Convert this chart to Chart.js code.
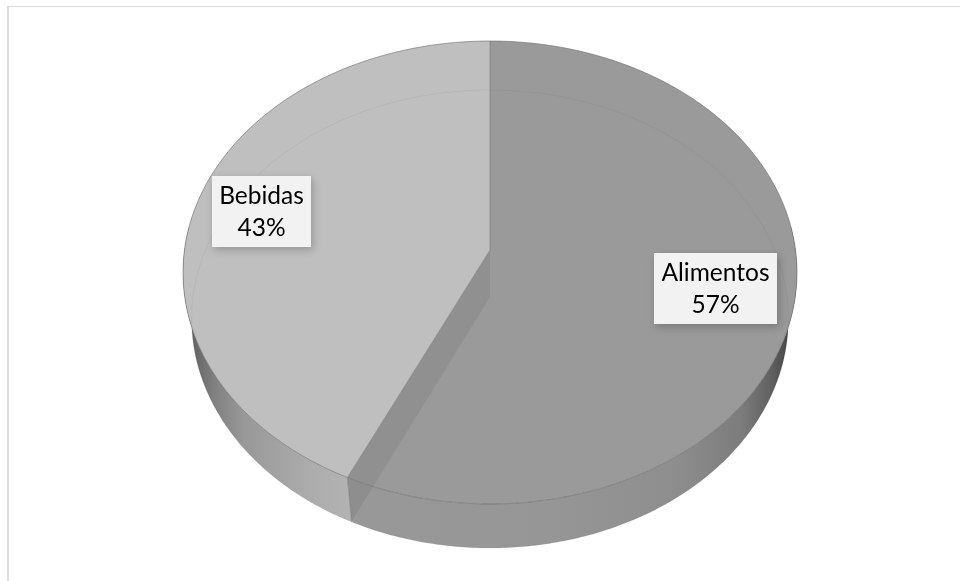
<!DOCTYPE html>
<html><head><meta charset="utf-8">
<style>html,body{margin:0;padding:0;background:#fff}#wrap{width:960px;height:581px}</style>
<script src="https://cdn.jsdelivr.net/npm/chart.js@4"></script>
</head><body><div id="wrap"><canvas id="c" width="960" height="581"></canvas></div>
<script>
const categories = ['Alimentos', 'Bebidas'];
const shares = [57, 43];
const sliceColors = ['#9a9a9a', '#bfbfbf'];

// perspective projection of a unit disc onto the page (top face and bottom face)
const topFace = {cx: 490, cy: 250, A: 305.5, B: 229.3, k: 0.0972};
const botFace = {cx: 490, cy: 297, A: 297, B: 226.9, k: 0.0961};
function proj(f, a, r = 1) {
  const u = r * Math.cos(a), v = r * Math.sin(a), w = 1 - f.k * v;
  return [f.cx + f.A * u / w, f.cy + f.B * v / w];
}
function arcPts(f, a0, a1) {
  const n = Math.max(2, Math.ceil(Math.abs(a1 - a0) * 90)), p = [];
  for (let i = 0; i <= n; i++) p.push(proj(f, a0 + (a1 - a0) * i / n));
  return p;
}
function poly(ctx, pts, close = true) {
  ctx.beginPath();
  pts.forEach((p, i) => i ? ctx.lineTo(p[0], p[1]) : ctx.moveTo(p[0], p[1]));
  if (close) ctx.closePath();
}
function sideGrad(ctx, stops) {
  const g = ctx.createLinearGradient(183, 0, 797, 0);
  stops.forEach(s => g.addColorStop(s[0], s[1]));
  return g;
}
const pie3d = {
  id: 'pie3d',
  beforeDatasetsDraw(chart) {
    const ctx = chart.ctx, arcs = chart.getDatasetMeta(0).data;
    const aAl = arcs[0].getProps(['startAngle', 'endAngle']);
    const seam = aAl.endAngle;
    const front0 = 0, front1 = Math.PI;
    ctx.save();

    // outer side wall of each slice (visible front half only)
    const wall = (a0, a1, fill) => {
      const t = arcPts(topFace, a0, a1), b = arcPts(botFace, a1, a0);
      poly(ctx, t.concat(b)); ctx.fillStyle = fill; ctx.fill();
    };
    wall(front0 - 0.1, seam, sideGrad(ctx, [[0, '#9a9a9a'], [0.6, '#969696'], [0.8, '#8e8e8e'], [0.91, '#7c7c7c'], [0.96, '#5f5f5f'], [0.985, '#484848'], [1, '#555']]));
    wall(seam, front1 + 0.1, sideGrad(ctx, [[0, '#5a5a5a'], [0.012, '#606060'], [0.05, '#808080'], [0.1, '#989898'], [0.2, '#ababab'], [0.3, '#b6b6b6'], [1, '#b6b6b6']]));

    // top faces
    arcs.forEach(el => {
      const p = el.getProps(['startAngle', 'endAngle']);
      poly(ctx, [[topFace.cx, topFace.cy]].concat(arcPts(topFace, p.startAngle, p.endAngle)));
      ctx.fillStyle = el.options.backgroundColor; ctx.fill();
    });

    // inner radial wall, seen through the faces
    const seamT = proj(topFace, seam), seamB = proj(botFace, seam);
    poly(ctx, [[topFace.cx, topFace.cy], seamT, seamB, [botFace.cx, botFace.cy]]);
    ctx.fillStyle = 'rgba(60,60,60,0.11)'; ctx.fill();

    // bottom rim seen through the faces
    poly(ctx, arcPts(botFace, 0, Math.PI * 2));
    ctx.strokeStyle = 'rgba(90,90,90,0.09)'; ctx.lineWidth = 1; ctx.stroke();

    // edges
    ctx.lineWidth = 1;
    ctx.strokeStyle = 'rgba(105,105,105,0.6)';
    poly(ctx, arcPts(topFace, 0, Math.PI * 2)); ctx.stroke();
    poly(ctx, [proj(topFace, aAl.startAngle), [topFace.cx, topFace.cy], seamT], false);
    ctx.strokeStyle = 'rgba(110,110,110,0.5)'; ctx.stroke();
    poly(ctx, [seamT, seamB], false);
    ctx.strokeStyle = 'rgba(120,120,120,0.6)'; ctx.stroke();
    ctx.restore();
    return false;
  },
  beforeDraw(chart) {
    const ctx = chart.ctx;
    ctx.save();
    ctx.fillStyle = '#dcdcdc';
    ctx.fillRect(7, 6, 953, 1);
    ctx.fillRect(7, 6, 2, 575);
    ctx.restore();
  },
  afterDraw(chart) {
    const ctx = chart.ctx;
    const boxes = [[654, 253, 123, 71], [212, 176, 99, 71]];
    ctx.save();
    categories.forEach((name, i) => {
      const b = boxes[i], total = shares.reduce((s, v) => s + v, 0);
      ctx.save();
      ctx.shadowColor = 'rgba(0,0,0,0.22)'; ctx.shadowBlur = 8; ctx.shadowOffsetX = 2; ctx.shadowOffsetY = 3;
      ctx.fillStyle = '#f2f2f2';
      ctx.fillRect(b[0], b[1], b[2], b[3]);
      ctx.restore();
      ctx.fillStyle = '#000';
      ctx.font = '24.5px Lato';
      ctx.textAlign = 'center'; ctx.textBaseline = 'alphabetic';
      ctx.fillText(name, b[0] + b[2] / 2, b[1] + 28);
      ctx.fillText(Math.round(shares[i] / total * 100) + '%', b[0] + b[2] / 2, b[1] + 60);
    });
    ctx.restore();
  }
};
new Chart(document.getElementById('c'), {
  type: 'pie',
  data: {labels: categories, datasets: [{data: shares, backgroundColor: sliceColors, borderWidth: 0}]},
  options: {
    responsive: false, animation: false,
    plugins: {legend: {display: false}, tooltip: {enabled: false}}
  },
  plugins: [pie3d]
});
</script></body></html>
